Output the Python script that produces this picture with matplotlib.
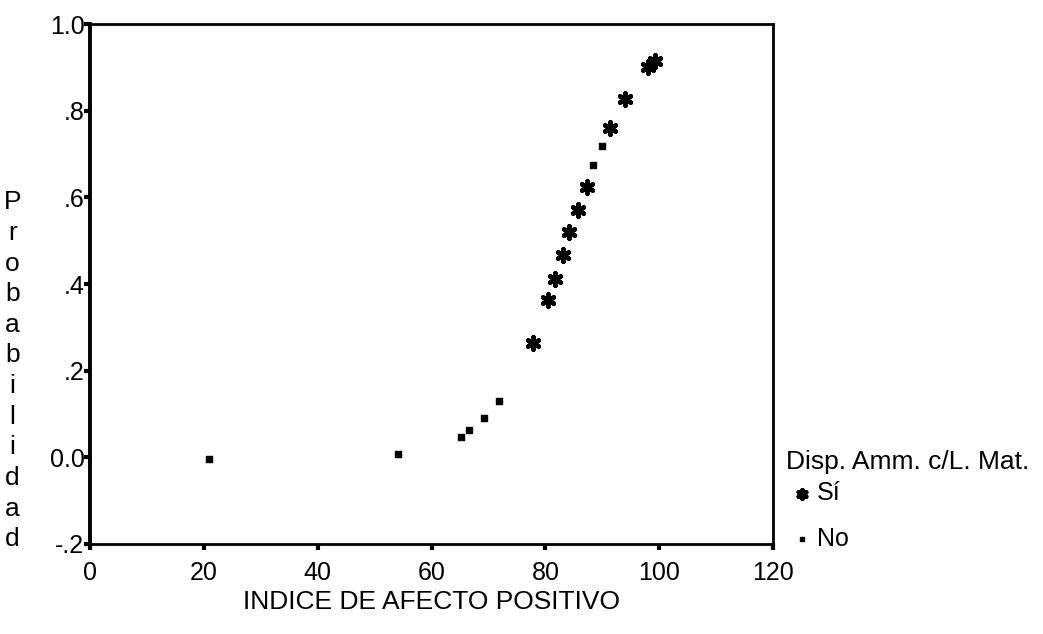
## Probabilidad vs Indice de afecto positivo
import matplotlib
matplotlib.use('Agg')
import matplotlib.pyplot as plt
import numpy as np

## Data
si_x = [77.9, 80.5, 81.7, 83.1, 84.2, 85.8, 87.3, 91.4, 94.0, 98.1, 99.3]
si_y = [0.265, 0.362, 0.412, 0.468, 0.521, 0.571, 0.624, 0.760, 0.827, 0.901, 0.915]

no_x = [20.9, 54.1, 65.2, 66.6, 69.2, 71.9, 88.4, 90.0]
no_y = [-0.005, 0.007, 0.048, 0.062, 0.090, 0.131, 0.675, 0.719]

x_ticks = [0, 20, 40, 60, 80, 100, 120]
y_ticks = [-0.2, 0.0, 0.2, 0.4, 0.6, 0.8, 1.0]
y_tick_labels = ['-.2', '0.0', '.2', '.4', '.6', '.8', '1.0']

plt.rcParams['font.family'] = ['Liberation Sans', 'DejaVu Sans']

fig = plt.figure(figsize=(10.43, 6.34), dpi=100)
ax = fig.add_axes([0.0863, 0.142, 0.655, 0.820])

ax.scatter(si_x, si_y, marker=(6, 2, 0), s=80, color='black', linewidths=3.2, label='Sí')
ax.scatter(no_x, no_y, marker='s', s=20, color='black', label='No')

ax.set_xlim(0, 120)
ax.set_ylim(-0.2, 1.0)
ax.set_xticks(x_ticks)
ax.set_xticklabels([str(t) for t in x_ticks])
ax.set_yticks(y_ticks)
ax.set_yticklabels(y_tick_labels)

for s in ax.spines.values():
    s.set_linewidth(2)
    s.set_color('black')
ax.spines['left'].set_linewidth(2.8)

ax.tick_params(direction='out', length=4, width=3, labelsize=18)
ax.tick_params(axis='x', pad=8)
ax.tick_params(axis='y', pad=0)

ax.set_xlabel('INDICE DE AFECTO POSITIVO', fontsize=19, labelpad=4)

## vertical stacked y label
fig.text(0.012, 0.700, '\n'.join('Probabilidad'), fontsize=19, ha='center', va='top',
         linespacing=1.35)

## legend
fig.text(0.754, 0.271, 'Disp. Amm. c/L. Mat.', fontsize=19, ha='left', va='center')
leg = ax.legend(loc='center left', bbox_to_anchor=(0.759, 0.186),
                bbox_transform=fig.transFigure, frameon=False, fontsize=18,
                labelspacing=0.85, handletextpad=0.2, handlelength=0.8,
                markerscale=0.7, borderaxespad=0, borderpad=0)

fig.savefig('out.png', dpi=100)
